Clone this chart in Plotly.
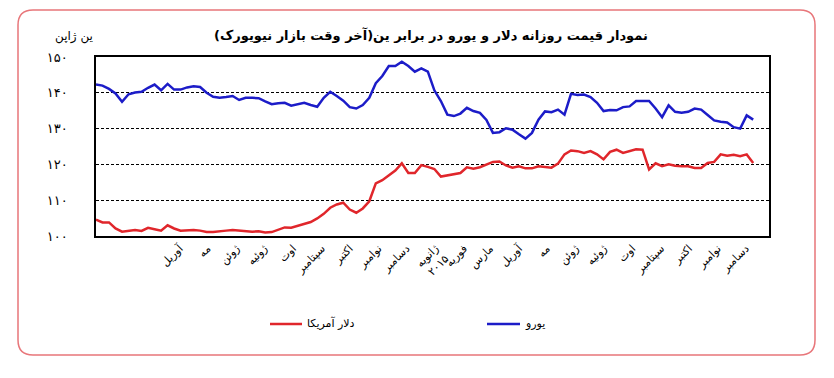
import pandas as pd
import plotly.graph_objects as go

# ---- data (weekly readings from the picture) ----
start_date = "2014-01-01"
usd_jpy = [104.6, 103.8, 103.8, 102.1, 101.2, 101.4, 101.7, 101.4, 102.3, 101.9,
           101.5, 103.0, 102.1, 101.5, 101.7, 101.7, 101.5, 101.1, 101.1, 101.4,
           101.5, 101.7, 101.5, 101.2, 101.2, 101.3, 101.0, 101.1, 101.7, 102.4,
           102.3, 102.8, 103.5, 103.9, 104.9, 106.2, 107.9, 108.8, 109.3, 107.4,
           106.5, 107.7, 109.7, 114.7, 115.6, 117.0, 118.3, 120.3, 117.6, 117.6,
           119.8, 119.3, 118.7, 116.6, 116.9, 117.2, 117.6, 119.2, 118.8, 119.2,
           119.9, 120.7, 120.8, 119.7, 119.1, 119.5, 118.9, 118.9, 119.5, 119.4,
           119.1, 120.2, 122.8, 123.9, 123.7, 123.2, 123.7, 122.8, 121.4, 123.5,
           124.1, 123.2, 123.7, 124.2, 124.1, 118.6, 120.3, 119.5, 120.0, 119.6,
           119.5, 119.5, 119.0, 119.0, 120.4, 120.7, 122.8, 122.4, 122.7, 122.3,
           122.8, 120.4]
eur_jpy = [142.3, 142.0, 141.1, 139.8, 137.5, 139.6, 140.1, 140.3, 141.4, 142.3,
           140.7, 142.5, 140.9, 140.9, 141.5, 141.8, 141.6, 140.0, 138.9, 138.6,
           138.8, 139.1, 138.0, 138.6, 138.6, 138.5, 137.6, 136.8, 137.1, 137.2,
           136.4, 136.8, 137.2, 136.6, 136.1, 138.6, 140.3, 139.1, 137.8, 136.0,
           135.6, 136.6, 138.6, 142.7, 144.7, 147.5, 147.5, 148.7, 147.5, 145.9,
           146.8, 145.9, 140.7, 137.7, 133.9, 133.5, 134.2, 135.8, 134.9, 134.4,
           132.4, 128.8, 129.0, 130.1, 129.7, 128.4, 127.2, 128.8, 132.5, 134.8,
           134.6, 135.3, 133.9, 139.7, 139.4, 139.5, 138.8, 137.2, 134.9, 135.2,
           135.1, 136.0, 136.2, 137.7, 137.7, 137.7, 135.6, 133.2, 136.5, 134.7,
           134.4, 134.7, 135.6, 135.3, 133.8, 132.3, 131.9, 131.7, 130.4, 130.0,
           133.7, 132.5]
dates = pd.date_range(start_date, periods=len(usd_jpy), freq="7D")

month_ticks = ["2014-04-01", "2014-05-01", "2014-06-01", "2014-07-01", "2014-08-01",
               "2014-09-01", "2014-10-01", "2014-11-01", "2014-12-01", "2015-01-01",
               "2015-02-01", "2015-03-01", "2015-04-01", "2015-05-01", "2015-06-01",
               "2015-07-01", "2015-08-01", "2015-09-01", "2015-10-01", "2015-11-01",
               "2015-12-01"]
month_labels = ["آوریل", "مه", "ژوئن", "ژوئیه", "اوت", "سپتامبر", "اکتبر", "نوامبر",
                "دسامبر", "ژانویه<br>۲۰۱۵", "فوریه", "مارس", "آوریل", "مه", "ژوئن",
                "ژوئیه", "اوت", "سپتامبر", "اکتبر", "نوامبر", "دسامبر"]
y_ticks = [100, 110, 120, 130, 140, 150]
y_labels = ["۱۰۰", "۱۱۰", "۱۲۰", "۱۳۰", "۱۴۰", "۱۵۰"]

title_text = "\u200fنمودار قیمت روزانه دلار و یورو در برابر ین(آخر وقت بازار نیویورک)\u200f"
usd_name = "دلار آمریکا"
eur_name = "یورو"
yaxis_name = "ین ژاپن"

RED = "#e0262b"
BLUE = "#1c1cc8"
FONT = "DejaVu Sans"

fig = go.Figure()
fig.add_trace(go.Scatter(x=dates, y=eur_jpy, mode="lines", name=eur_name,
                         line=dict(color=BLUE, width=2.5), showlegend=False))
fig.add_trace(go.Scatter(x=dates, y=usd_jpy, mode="lines", name=usd_name,
                         line=dict(color=RED, width=2.5), showlegend=False))

# page body has an 8px margin: the figure is drawn 8px smaller and everything
# is placed in window-pixel coordinates of the reference.
OFF = 8
W, H = 834 - OFF, 378 - OFF
PL, PR, PT, PB = 96, 769, 57, 236          # plot frame in window pixels
L, T = PL - OFF, PT - OFF
R, B = W - (PR - OFF), H - (PB - OFF)
pw, ph = PR - PL, PB - PT

def px(x):
    return (x - PL) / pw

def py(y):
    return (PB - y) / ph

fig.update_layout(
    template="none",
    width=W, height=H,
    margin=dict(l=L, r=R, t=T, b=B, autoexpand=False),
    paper_bgcolor="white", plot_bgcolor="white",
    font=dict(family=FONT, color="black"),
)
fig.update_xaxes(
    range=["2014-01-01", "2015-12-26"], automargin=False,
    tickmode="array", tickvals=month_ticks, ticktext=month_labels,
    tickangle=-45, tickfont=dict(size=11, family=FONT),
    showgrid=False, showline=True, mirror=True, linecolor="black", linewidth=1.5,
    ticks="", zeroline=False,
)
fig.update_yaxes(
    range=[100, 150], automargin=False,
    tickmode="array", tickvals=y_ticks, ticktext=y_labels,
    tickfont=dict(size=13, family=FONT),
    showgrid=True, gridcolor="black", griddash="3px,2px", gridwidth=1,
    showline=True, mirror=True, linecolor="black", linewidth=1.5,
    ticks="", zeroline=False, ticklabelstandoff=24,
)

# outer rounded frame
x0, x1 = px(18), px(815)
y0, y1 = py(355), py(10)
rx, ry = 15 / pw, 15 / ph
path = (f"M {x0+rx},{y1} L {x1-rx},{y1} Q {x1},{y1} {x1},{y1-ry} "
        f"L {x1},{y0+ry} Q {x1},{y0} {x1-rx},{y0} L {x0+rx},{y0} "
        f"Q {x0},{y0} {x0},{y0+ry} L {x0},{y1-ry} Q {x0},{y1} {x0+rx},{y1} Z")
fig.add_shape(type="path", path=path, xref="paper", yref="paper",
              line=dict(color="#e8767a", width=1.5), layer="below")

# title & axis unit
fig.add_annotation(text="<b>" + title_text + "</b>", x=px(431), y=py(35),
                   xref="paper", yref="paper", showarrow=False,
                   font=dict(size=13, family=FONT), xanchor="center", yanchor="middle")
fig.add_annotation(text=yaxis_name, x=px(74), y=py(37), xref="paper", yref="paper",
                   showarrow=False, font=dict(size=12, family=FONT),
                   xanchor="center", yanchor="middle")

# manual legend
for (xa, xb, color, name) in [(270, 302, RED, usd_name), (487, 520, BLUE, eur_name)]:
    fig.add_shape(type="line", x0=px(xa), x1=px(xb), y0=py(324), y1=py(324),
                  xref="paper", yref="paper", line=dict(color=color, width=2.5))
    fig.add_annotation(text=name, x=px(xb + 3), y=py(323), xref="paper", yref="paper",
                       showarrow=False, font=dict(size=11, family=FONT),
                       xanchor="left", yanchor="middle")

fig.write_html("out.html")
